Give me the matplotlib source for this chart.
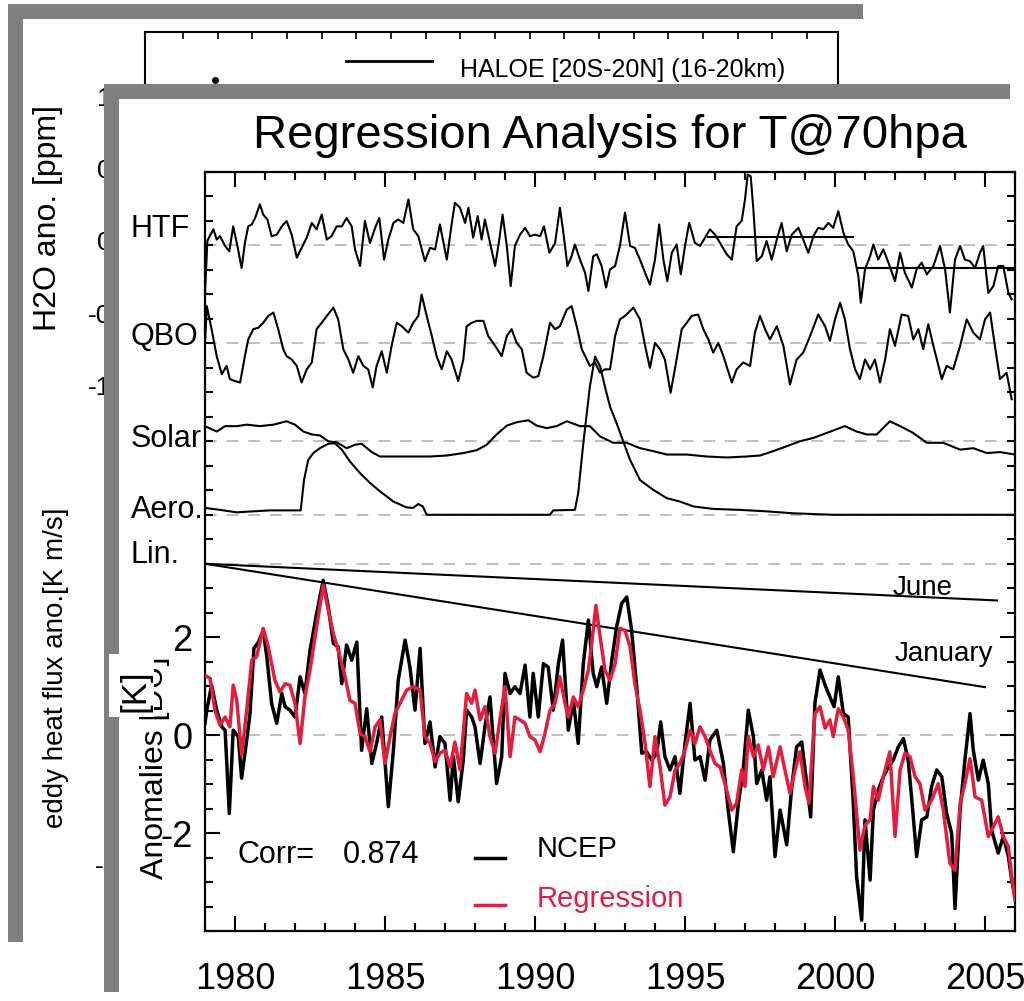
import numpy as np
import matplotlib
matplotlib.use('Agg')
import matplotlib.pyplot as plt
from matplotlib.patches import Rectangle

plt.rcParams['font.family'] = ['Liberation Sans', 'DejaVu Sans']

W, H = 1024, 1001

# ---- anomalies (K): NCEP and regression ----
ncep_t = [1979.00, 1979.06, 1979.22, 1979.39, 1979.56, 1979.67, 1979.81, 1979.94,
          1980.11, 1980.22, 1980.39, 1980.50, 1980.63, 1980.78, 1980.94,
          1981.06, 1981.22, 1981.39, 1981.56, 1981.67, 1981.83,
          1982.00, 1982.17, 1982.33, 1982.50, 1982.72, 1982.94,
          1983.11, 1983.28, 1983.44, 1983.56, 1983.72, 1983.89,
          1984.06, 1984.22, 1984.39, 1984.56, 1984.72, 1984.89,
          1985.11, 1985.28, 1985.44, 1985.67, 1985.83,
          1986.00, 1986.17, 1986.33, 1986.50, 1986.67, 1986.83,
          1987.00, 1987.17, 1987.28, 1987.44, 1987.61, 1987.72, 1987.89,
          1988.00, 1988.17, 1988.33, 1988.50, 1988.72, 1988.89,
          1989.00, 1989.17, 1989.33, 1989.50, 1989.67, 1989.83, 1989.94,
          1990.11, 1990.28, 1990.44, 1990.61, 1990.78, 1990.92,
          1991.11, 1991.28, 1991.44, 1991.61, 1991.78, 1991.94,
          1992.06, 1992.22, 1992.39, 1992.56, 1992.72, 1992.89,
          1993.06, 1993.22, 1993.39, 1993.56, 1993.72, 1993.89,
          1994.06, 1994.19, 1994.33, 1994.50, 1994.67, 1994.83,
          1995.00, 1995.17, 1995.33, 1995.50, 1995.67, 1995.83,
          1996.06, 1996.28, 1996.44, 1996.61, 1996.78, 1996.94,
          1997.11, 1997.28, 1997.39, 1997.56, 1997.72, 1997.83,
          1998.00, 1998.17, 1998.39, 1998.56, 1998.72, 1998.89,
          1999.06, 1999.19, 1999.33, 1999.50, 1999.67, 1999.83, 1999.97,
          2000.11, 2000.28, 2000.44, 2000.61, 2000.72, 2000.89,
          2001.00, 2001.17, 2001.28, 2001.44, 2001.61, 2001.78, 2001.94,
          2002.11, 2002.28, 2002.44, 2002.61, 2002.72, 2002.89,
          2003.06, 2003.22, 2003.39, 2003.56, 2003.72, 2003.89,
          2004.00, 2004.17, 2004.33, 2004.50, 2004.61, 2004.78, 2004.94,
          2005.11, 2005.22, 2005.44, 2005.61, 2005.78, 2005.89, 2006.00]
ncep_v = [0.24, 0.51, 1.02, 0.51, 0.17, 0.10, -1.60, 0.10,
          -0.03, -0.88, -0.10, 0.44, 1.77, 1.90, 2.14,
          1.60, 0.65, 0.24, 0.85, 0.58, 0.51,
          0.37, 1.19, 0.85, 1.73, 2.48, 3.16,
          2.62, 1.87, 1.80, 1.05, 1.84, 1.53,
          1.90, -0.31, 0.54, -0.58, -0.17, 0.37,
          -1.46, -0.31, 1.12, 1.94, 1.39,
          0.51, 1.77, -0.17, 0.27, -0.65, -0.03,
          -0.17, -1.33, -0.44, -1.36, -0.51, 0.51, 0.37,
          0.17, -0.58, 0.17, 0.78, -0.99, -0.44,
          1.26, 0.85, 0.99, 0.85, 1.43, 0.37, 1.26,
          0.37, 1.46, 1.39, 0.51, 1.46, 1.94,
          0.10, 0.71, -0.17, 1.46, 2.35, 1.26,
          0.99, 1.39, 0.65, 1.53, 2.21, 2.69,
          2.82, 2.14, 0.99, -0.37, -0.34, -0.51,
          -0.37, 0.27, -0.44, -0.71, -0.44, -1.19,
          -0.17, 0.65, -0.51, -0.44, -0.92, -0.10,
          0.10, -0.58, -1.53, -2.38, -1.39, -0.71,
          0.51, -0.03, -0.99, -0.71, -1.33, -0.85,
          -2.48, -1.53, -2.24, -1.05, -0.24, -0.14,
          -0.99, -1.67, 0.65, 1.33, 1.02, 0.78, 0.58,
          1.19, 0.44, 0.37, -1.39, -2.89, -3.78,
          -1.73, -2.96, -1.53, -1.12, -0.85, -0.65, -0.51,
          -0.24, -0.07, -0.51, -1.67, -2.48, -1.73,
          -1.67, -1.05, -0.71, -0.85, -1.60, -2.01,
          -3.54, -1.53, -0.51, 0.44, -0.31, -0.92, -0.51,
          -0.99, -1.94, -2.41, -2.07, -2.48, -2.96, -3.30]

regr_t = [1979.00, 1979.17, 1979.33, 1979.50, 1979.67, 1979.83, 1979.94,
          1980.06, 1980.22, 1980.39, 1980.56, 1980.72, 1980.94,
          1981.11, 1981.33, 1981.50, 1981.67, 1981.83,
          1982.00, 1982.17, 1982.33, 1982.50, 1982.72, 1982.94,
          1983.11, 1983.28, 1983.50, 1983.67, 1983.83,
          1984.00, 1984.17, 1984.33, 1984.50, 1984.67, 1984.83,
          1985.00, 1985.17, 1985.33, 1985.50, 1985.72, 1985.94,
          1986.17, 1986.33, 1986.50, 1986.67, 1986.83,
          1987.00, 1987.17, 1987.33, 1987.50, 1987.72, 1987.89,
          1988.00, 1988.17, 1988.33, 1988.50, 1988.67, 1988.83,
          1989.00, 1989.17, 1989.33, 1989.50, 1989.67, 1989.83,
          1990.00, 1990.17, 1990.33, 1990.50, 1990.67, 1990.83,
          1991.00, 1991.11, 1991.28, 1991.44, 1991.61, 1991.78, 1991.89,
          1992.03, 1992.17, 1992.33, 1992.50, 1992.67, 1992.83,
          1993.00, 1993.17, 1993.33, 1993.50, 1993.67, 1993.83,
          1994.00, 1994.17, 1994.33, 1994.50, 1994.67, 1994.83,
          1995.00, 1995.17, 1995.33, 1995.50, 1995.67, 1995.83,
          1996.00, 1996.17, 1996.33, 1996.56, 1996.72, 1996.89,
          1997.00, 1997.11, 1997.28, 1997.44, 1997.61, 1997.78, 1997.94,
          1998.17, 1998.33, 1998.50, 1998.67, 1998.83,
          1999.00, 1999.13, 1999.33, 1999.50, 1999.67, 1999.83, 1999.94,
          2000.11, 2000.28, 2000.44, 2000.61, 2000.83,
          2001.00, 2001.17, 2001.28, 2001.44, 2001.61, 2001.83,
          2002.00, 2002.17, 2002.33, 2002.50, 2002.67, 2002.83,
          2003.00, 2003.22, 2003.44, 2003.61, 2003.83,
          2004.00, 2004.17, 2004.33, 2004.50, 2004.67, 2004.89,
          2005.11, 2005.28, 2005.44, 2005.61, 2005.78, 2005.89, 2006.00]
regr_v = [1.22, 1.16, 0.51, 0.20, 0.37, 0.17, 1.02,
          0.71, -0.41, 0.51, 1.53, 1.60, 2.18,
          1.80, 1.12, 0.88, 1.05, 1.02,
          0.65, -0.17, 0.78, 1.33, 2.21, 3.06,
          2.55, 2.07, 1.60, 1.19, 0.71,
          0.65, 0.03, -0.03, -0.34, 0.17, 0.31,
          -0.58, -0.03, 0.44, 0.65, 0.92, 0.99,
          0.92, -0.03, -0.17, -0.54, -0.37,
          -0.31, -0.65, -0.14, -0.71, 0.85, 0.65,
          0.92, 0.31, 0.58, -0.03, -0.37, 0.31,
          0.99, -0.44, 0.37, 0.31, 0.24, -0.03,
          -0.10, -0.34, 0.03, 0.51, 0.65, 1.19,
          0.65, 0.37, 0.78, 0.58, 0.92, 1.33, 1.87,
          2.65, 2.01, 1.33, 1.12, 1.46, 2.18,
          2.14, 1.80, 1.05, 0.51, -0.17, -1.05,
          -0.03, -0.65, -1.43, -1.26, -0.71, -0.58,
          -0.31, 0.10, -0.17, 0.17, -0.03, -0.31,
          -0.58, -0.65, -0.99, -1.53, -1.39, -0.71,
          -1.05, -0.03, -0.44, -0.20, -0.71, -0.24, -0.85,
          -0.24, -0.71, -1.19, -0.71, -0.34,
          -1.05, -1.39, 0.44, 0.58, 0.14, 0.31, -0.03,
          0.54, 0.37, 0.10, -0.85, -2.35,
          -1.84, -1.73, -1.05, -1.33, -0.85, -0.34,
          -2.07, -0.71, -0.37, -0.44, -0.85, -0.99,
          -1.53, -1.33, -0.99, -1.53, -2.62,
          -2.76, -1.39, -0.99, -0.48, -1.26, -1.33,
          -2.07, -1.87, -1.67, -2.07, -2.28, -2.89, -3.37]

# ---- regression terms (anomalies about their own baselines) ----
htf_t = [1979.00, 1979.08, 1979.28, 1979.39, 1979.50, 1979.67, 1979.81, 1979.94,
         1980.08, 1980.22, 1980.33, 1980.44, 1980.56, 1980.67, 1980.83, 1980.94,
         1981.08, 1981.22, 1981.39, 1981.56, 1981.72, 1981.89,
         1982.06, 1982.22, 1982.39, 1982.56, 1982.72, 1982.89,
         1983.06, 1983.22, 1983.39, 1983.56, 1983.72, 1983.89,
         1984.00, 1984.17, 1984.33, 1984.50, 1984.67, 1984.81, 1984.97,
         1985.11, 1985.28, 1985.44, 1985.61, 1985.78, 1985.94,
         1986.11, 1986.33, 1986.50, 1986.67, 1986.83,
         1987.06, 1987.22, 1987.33, 1987.50, 1987.67, 1987.78, 1987.94,
         1988.09, 1988.22, 1988.33, 1988.50, 1988.67, 1988.81, 1988.92,
         1989.06, 1989.19, 1989.33, 1989.50, 1989.67, 1989.83,
         1990.00, 1990.17, 1990.30, 1990.48, 1990.67, 1990.83, 1990.94,
         1991.08, 1991.22, 1991.33, 1991.50, 1991.67, 1991.78, 1991.94,
         1992.06, 1992.22, 1992.37, 1992.50, 1992.67, 1992.83,
         1993.00, 1993.17, 1993.33, 1993.50, 1993.67, 1993.83,
         1994.00, 1994.14, 1994.28, 1994.41, 1994.56, 1994.72, 1994.86,
         1995.00, 1995.14, 1995.33, 1995.50, 1995.67, 1995.83,
         1996.00, 1996.17, 1996.39, 1996.56, 1996.72, 1996.89,
         1997.00, 1997.09, 1997.19, 1997.28, 1997.39, 1997.56, 1997.72, 1997.89,
         1998.06, 1998.22, 1998.39, 1998.56, 1998.78, 1998.94,
         1999.11, 1999.28, 1999.44, 1999.61, 1999.78, 1999.94,
         2000.11, 2000.28, 2000.44, 2000.61, 2000.78, 2000.86,
         2001.00, 2001.17, 2001.28, 2001.44, 2001.61, 2001.78,
         2002.00, 2002.17, 2002.33, 2002.56, 2002.72, 2002.89,
         2003.06, 2003.28, 2003.50, 2003.67, 2003.83,
         2004.00, 2004.17, 2004.33, 2004.50, 2004.67, 2004.83, 2004.94,
         2005.11, 2005.28, 2005.44, 2005.61, 2005.78, 2005.89]
htf_v = [-0.97, 0.10, 0.33, 0.12, 0.19, -0.01, -0.12, 0.39,
         -0.01, -0.46, 0.05, 0.39, 0.43, 0.56, 0.84, 0.63,
         0.53, 0.19, 0.22, 0.39, 0.50, 0.22,
         -0.25, -0.05, 0.16, 0.46, 0.33, 0.63,
         0.12, 0.19, 0.39, 0.39, 0.56, 0.39,
         -0.08, -0.42, 0.50, 0.05, 0.36, 0.56, -0.29,
         0.12, 0.46, 0.53, 0.46, 0.94, 0.33,
         0.19, -0.32, -0.05, -0.08, 0.43,
         -0.29, 0.43, 0.87, 0.77, 0.46, 0.77, 0.16,
         0.60, 0.12, 0.53, 0.05, -0.42, 0.12, 0.63,
         -0.01, -0.83, -0.01, 0.22, 0.36, 0.19,
         0.22, 0.19, 0.39, -0.15, 0.05, 0.77, 0.29,
         -0.42, -0.22, 0.02, -0.29, -0.56, -0.93, -0.22,
         -0.18, -0.42, -0.86, -0.49, -0.42, -0.01,
         0.67, -0.01, -0.05, -0.29, -0.56, -0.80,
         -0.29, 0.43, -0.29, -0.73, -0.15, 0.02, -0.59,
         -0.01, 0.46, 0.05, -0.01, 0.16, 0.33,
         0.22, 0.05, -0.18, -0.29, 0.39, 0.50,
         0.94, 1.45, 1.41, 0.73, -0.32, -0.22, 0.09, -0.29,
         0.12, 0.46, -0.12, 0.22, 0.36, 0.12,
         -0.15, 0.19, 0.36, 0.33, 0.46, 0.36,
         0.70, 0.26, 0.02, -0.12, -0.63, -1.17,
         -0.49, -0.22, 0.02, -0.29, -0.08, -0.35,
         -0.73, -0.15, -0.56, -0.86, -0.49, -0.35,
         -0.59, -0.42, -0.01, -0.49, -1.37,
         -0.29, -0.01, -0.29, -0.32, -0.46, -0.15, -0.01,
         -0.97, -0.83, -0.42, -0.42, -0.97, -1.10]
htf_fit_t = [[1995.78, 2000.61], [2000.72, 2006.00]]
htf_fit_v = [0.17, -0.46]

qbo_t = [1979.00, 1979.06, 1979.22, 1979.39, 1979.56, 1979.72, 1979.83,
         1980.00, 1980.17, 1980.33, 1980.44, 1980.61, 1980.78, 1980.94,
         1981.11, 1981.28, 1981.44, 1981.61, 1981.72, 1981.89,
         1982.06, 1982.22, 1982.39, 1982.56, 1982.72, 1982.89,
         1983.06, 1983.28, 1983.44, 1983.61, 1983.78, 1983.94,
         1984.11, 1984.28, 1984.44, 1984.59, 1984.72, 1984.89,
         1985.06, 1985.22, 1985.39, 1985.56, 1985.78, 1985.94,
         1986.11, 1986.22, 1986.39, 1986.56, 1986.72, 1986.89,
         1987.06, 1987.22, 1987.44, 1987.61, 1987.72, 1987.89,
         1988.06, 1988.28, 1988.44, 1988.67, 1988.89,
         1989.06, 1989.22, 1989.39, 1989.56, 1989.72, 1989.94,
         1990.11, 1990.28, 1990.50, 1990.67, 1990.83,
         1991.06, 1991.22, 1991.39, 1991.56, 1991.67, 1991.83,
         1992.00, 1992.17, 1992.33, 1992.50, 1992.67, 1992.83,
         1993.00, 1993.28, 1993.50, 1993.67, 1993.83,
         1994.00, 1994.17, 1994.33, 1994.52, 1994.72, 1994.89,
         1995.06, 1995.22, 1995.44, 1995.61, 1995.78, 1995.94,
         1996.11, 1996.28, 1996.56, 1996.72, 1996.94,
         1997.17, 1997.33, 1997.50, 1997.67, 1997.83,
         1998.06, 1998.28, 1998.50, 1998.72, 1998.94,
         1999.17, 1999.44, 1999.67, 1999.83,
         2000.00, 2000.17, 2000.33, 2000.50, 2000.67, 2000.83,
         2001.00, 2001.17, 2001.33, 2001.50, 2001.67, 2001.83,
         2002.00, 2002.22, 2002.44, 2002.61, 2002.78, 2002.94,
         2003.11, 2003.28, 2003.56, 2003.72, 2003.94,
         2004.17, 2004.39, 2004.61, 2004.83,
         2005.00, 2005.17, 2005.33, 2005.50, 2005.72, 2005.89]
qbo_v = [0.00, 0.76, 0.29, -0.26, -0.63, -0.46, -0.73,
         -0.77, -0.80, -0.26, 0.08, 0.29, 0.32, 0.42,
         0.56, 0.63, 0.29, -0.12, -0.26, -0.33,
         -0.46, -0.80, -0.53, -0.39, 0.29, 0.42,
         0.56, 0.73, 0.49, -0.12, -0.33, -0.60,
         -0.26, -0.46, -0.53, -0.90, -0.46, -0.16,
         -0.60, -0.05, 0.42, 0.35, 0.22, 0.42,
         0.56, 1.00, 0.56, 0.15, -0.26, -0.53,
         -0.16, -0.33, -0.77, -0.33, 0.35, 0.42,
         0.46, 0.46, 0.15, -0.05, -0.26,
         0.15, 0.29, 0.01, -0.12, -0.60, -0.70,
         -0.67, -0.26, 0.42, 0.29, 0.35,
         0.69, 0.76, 0.35, -0.12, -0.26, -0.46,
         -0.39, -0.60, -0.53, -0.53, 0.15, 0.49,
         0.56, 0.73, 0.49, -0.05, -0.50,
         0.01, -0.12, -0.33, -1.01, -0.33, 0.29,
         0.42, 0.56, 0.59, 0.29, 0.08, -0.19,
         0.01, -0.26, -0.80, -0.53, -0.39,
         -0.46, 0.22, 0.56, 0.29, 0.08,
         0.35, -0.05, -0.84, -0.33, -0.19,
         0.15, 0.59, 0.35, 0.05,
         0.49, 0.83, 0.49, -0.12, -0.53, -0.73,
         -0.33, -0.53, -0.33, -0.80, -0.33, 0.29,
         -0.05, 0.59, 0.56, 0.08, 0.29, -0.12,
         0.39, -0.05, -0.73, -0.46, -0.53,
         -0.05, 0.49, 0.22, 0.08,
         0.49, 0.63, -0.05, -0.73, -0.60, -1.14]

solar_t = [1979.00, 1979.39, 1979.67, 1980.06, 1980.39, 1980.83, 1981.28, 1981.72,
           1982.00, 1982.28, 1982.56, 1982.83, 1983.11, 1983.39, 1983.72,
           1984.00, 1984.22, 1984.56, 1984.83, 1985.39, 1985.94, 1986.50,
           1987.06, 1987.61, 1988.06, 1988.39, 1988.72, 1989.06, 1989.39, 1989.78,
           1990.06, 1990.39, 1990.72, 1991.06, 1991.50, 1991.83, 1992.17, 1992.61,
           1993.06, 1993.50, 1993.94, 1994.39, 1995.06, 1995.72, 1996.39,
           1997.06, 1997.50, 1997.94, 1998.39, 1998.83, 1999.28, 1999.72,
           2000.33, 2000.72, 2001.06, 2001.39, 2001.83, 2002.17, 2002.61,
           2003.06, 2003.61, 2004.17, 2004.61, 2005.06, 2005.50, 2006.00]
solar_v = [0.31, 0.20, 0.31, 0.31, 0.34, 0.31, 0.34, 0.41,
           0.34, 0.20, 0.14, 0.12, 0.00, -0.02, -0.14,
           -0.07, -0.05, -0.22, -0.31, -0.31, -0.31, -0.31,
           -0.29, -0.24, -0.18, -0.07, 0.14, 0.32, 0.39, 0.43,
           0.32, 0.27, 0.31, 0.41, 0.31, 0.31, 0.10, -0.03,
           -0.03, -0.14, -0.20, -0.27, -0.27, -0.31, -0.33,
           -0.31, -0.29, -0.20, -0.10, 0.00, 0.07, 0.17,
           0.31, 0.20, 0.14, 0.14, 0.41, 0.31, 0.17,
           -0.03, -0.03, -0.17, -0.14, -0.24, -0.22, -0.27]

aero_t = [1979.00, 1979.50, 1980.06, 1980.61, 1981.17, 1981.72, 1982.19, 1982.30,
          1982.44, 1982.61, 1982.83, 1983.11, 1983.33, 1983.56, 1983.83,
          1984.17, 1984.50, 1984.83, 1985.28, 1985.72, 1985.94, 1986.11,
          1986.26, 1986.39, 1990.50, 1990.61, 1991.33, 1991.44, 1991.61,
          1991.83, 1992.00, 1992.17, 1992.33, 1992.50, 1992.72, 1992.94,
          1993.17, 1993.50, 1993.94, 1994.39, 1994.83, 1995.28, 1995.94,
          1996.83, 1997.72, 1998.61, 1999.94, 2006.00]
aero_v = [0.14, 0.10, 0.05, 0.07, 0.09, 0.09, 0.09, 0.71,
          1.12, 1.26, 1.36, 1.45, 1.46, 1.33, 1.09,
          0.85, 0.65, 0.48, 0.27, 0.15, 0.14, 0.22,
          0.17, 0.00, 0.00, 0.09, 0.10, 0.44, 1.46,
          2.62, 3.23, 3.03, 2.62, 2.21, 1.87, 1.50,
          1.12, 0.71, 0.51, 0.34, 0.27, 0.17, 0.12,
          0.10, 0.07, 0.03, 0.00, 0.00]

# linear trends, June and January
june_t = [1979.0, 2005.4]
june_v = [0.0, -0.75]
jan_t = [1979.0, 2005.0]
jan_v = [0.0, -2.52]

# background (hidden) HALOE figure
haloe_x = [1.93]
haloe_y = [1.112]

term_names = ['HTF', 'QBO', 'Solar', 'Aero.', 'Lin.']
term_base = [10.0, 8.0, 6.0, 4.5, 3.5]


def fx(x):
    return x / W


def fy(y):
    return 1 - y / H


def slide(x0, y0, x1, y1, z):
    # grey drop edge offset up-left, white page on top
    fig.add_artist(Rectangle((fx(x0 - 15), fy(y1 - 15)), (x1 - x0) / W, (y1 - y0) / H,
                             transform=fig.transFigure, facecolor='#808080',
                             edgecolor='none', zorder=z))
    fig.add_artist(Rectangle((fx(x0), fy(y1)), (x1 - x0) / W, (y1 - y0) / H,
                             transform=fig.transFigure, facecolor='white',
                             edgecolor='none', zorder=z + 0.5))


fig = plt.figure(figsize=(W / 100, H / 100), dpi=100)
fig.patch.set_facecolor('white')

# ---------- back slide ----------
slide(23, 19, 878, 957, -10)

axb = fig.add_axes([fx(145), fy(930), 693 / W, 898 / H])
axb.set_zorder(-8)
axb.patch.set_visible(False)
axb.set_xlim(-0.1, 19.9)
axb.set_ylim(-4.758, 1.443)
axb.set_xticks(np.arange(1, 20))
axb.set_xticklabels([])
axb.set_yticks([1.0, 0.5, 0.0, -0.5, -1.0])
axb.set_yticklabels(['1.0', '0.5', '0.0', '-0.5', '-1.0'])
axb.tick_params(axis='x', direction='in', top=True, bottom=False, length=5, width=1.2)
axb.tick_params(axis='y', direction='in', length=5, width=1.2, labelsize=19, pad=8.5)
for s in axb.spines.values():
    s.set_linewidth(1.5)
axb.plot(haloe_x, haloe_y, 'ko', ms=4)
axb.plot([5.71, 8.17], [1.243, 1.243], color='k', lw=2)
axb.text(9.0, 1.181, 'HALOE [20S-20N] (16-20km)', fontsize=18, va='center')

fig.text(fx(48), fy(218), 'H2O ano. [ppm]', rotation=90, fontsize=23,
         ha='center', va='center', zorder=-7)
fig.text(fx(56), fy(668), 'eddy heat flux ano.[K m/s]', rotation=90, fontsize=20,
         ha='center', va='center', zorder=-7)
fig.text(fx(99), fy(867), '-', fontsize=19, ha='center', va='center', zorder=-7)

# ---------- front slide ----------
slide(119, 99, 1025, 1007, -6)

ax = fig.add_axes([fx(205), fy(931), 810 / W, 759 / H])
ax.set_xlim(1979, 2006)
ax.set_ylim(-4, 11.5)

for b in term_base + [0.0]:
    ax.axhline(b, color='#b4b4b4', lw=1.2, dashes=(7, 6), zorder=1)

ax.plot(htf_t, np.array(htf_v) + term_base[0], color='k', lw=1.5, zorder=3)
for t, v in zip(htf_fit_t, htf_fit_v):
    ax.plot(t, [v + term_base[0]] * 2, color='k', lw=1.5, zorder=3)
ax.plot(qbo_t, np.array(qbo_v) + term_base[1], color='k', lw=1.5, zorder=3)
ax.plot(solar_t, np.array(solar_v) + term_base[2], color='k', lw=1.5, zorder=3)
ax.plot(aero_t, np.array(aero_v) + term_base[3], color='k', lw=1.5, zorder=3)
ax.plot(june_t, np.array(june_v) + term_base[4], color='k', lw=1.5, zorder=3)
ax.plot(jan_t, np.array(jan_v) + term_base[4], color='k', lw=1.5, zorder=3)

ax.plot(ncep_t, ncep_v, color='k', lw=2.5, zorder=4)
ax.plot(regr_t, regr_v, color='#e31d3d', lw=2.5, zorder=5)

# term names to the left of the axis
name_y = [10.18, 7.96, 5.88, 4.43, 3.51]
for name, yy in zip(term_names, name_y):
    ax.text(1976.53, yy, name, fontsize=22, ha='left', va='baseline', clip_on=False)

ax.text(2001.93, 2.86, 'June', fontsize=20, va='baseline')
ax.text(2001.97, 1.51, 'January', fontsize=20, va='baseline')

ax.text(1980.07, -2.61, 'Corr=', fontsize=22, va='baseline')
ax.text(1983.6, -2.61, '0.874', fontsize=22, va='baseline')
ax.plot([1988.0, 1989.0], [-2.51, -2.51], color='k', lw=2.5)
ax.text(1990.07, -2.49, 'NCEP', fontsize=21, va='baseline')
ax.plot([1988.0, 1989.0], [-3.47, -3.47], color='#e31d3d', lw=2.5)
ax.text(1990.07, -3.51, 'Regression', fontsize=21, va='baseline', color='#e31d3d')

ax.set_xticks(np.arange(1980, 2006, 5))
ax.set_xticks(np.arange(1979, 2007, 1), minor=True)
ax.set_yticks([-2, 0, 2])
ax.set_yticklabels(['-2', '0', '2'])
ax.set_yticks(np.arange(-4, 11.6, 0.5), minor=True)
ax.tick_params(which='both', direction='in', top=True, right=True, width=1.5)
ax.tick_params(which='major', length=11, labelsize=26)
ax.tick_params(which='minor', length=6)
ax.tick_params(axis='x', which='major', pad=22)
ax.tick_params(axis='y', which='major', pad=9)
for s in ax.spines.values():
    s.set_linewidth(1.6)

ax.set_title('Regression Analysis for T@70hpa', fontsize=34, pad=0, y=(931 - 148) / 759)
ax.set_ylabel('Anomalies [DU]', fontsize=23)
ax.yaxis.set_label_coords((170 - 205) / 810, (931 - 768) / 759)

# pasted-over unit label
fig.add_artist(Rectangle((fx(109), fy(717)), 45 / W, 63 / H, transform=fig.transFigure,
                         facecolor='white', edgecolor='none', zorder=5))
fig.text(fx(135), fy(691), '[K]', rotation=90, fontsize=25, ha='center', va='center',
         zorder=6)

fig.savefig('out.png', dpi=100)
